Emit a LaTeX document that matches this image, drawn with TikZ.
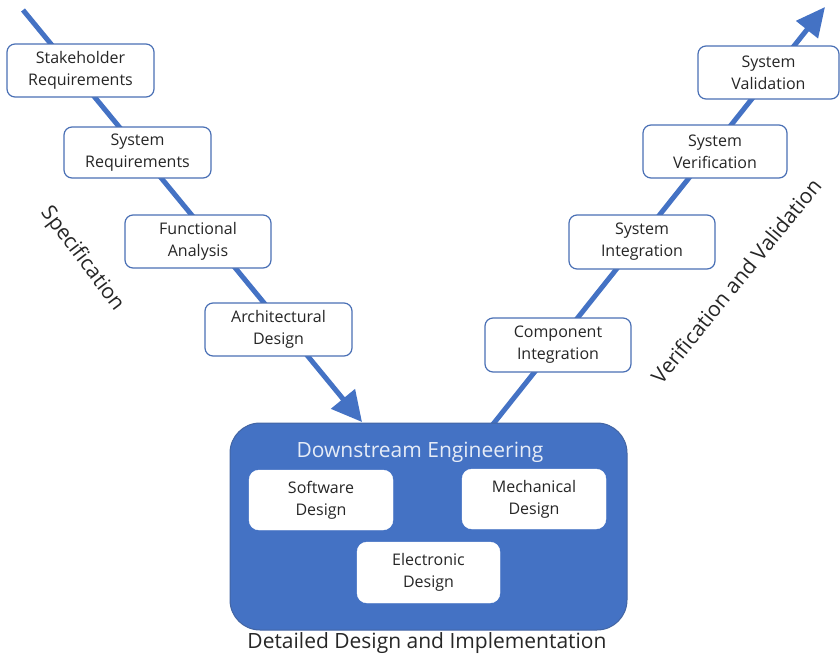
\documentclass[tikz,border=0pt]{standalone}
\usepackage{fontspec}
\setmainfont{Open Sans}
\usetikzlibrary{arrows.meta}
\definecolor{vblue}{HTML}{4472C4}
\definecolor{bborder}{HTML}{4A70B5}
\definecolor{txt}{HTML}{262626}
\definecolor{dstxt}{HTML}{E6ECF7}
\tikzset{
  vline/.style={draw=vblue, line width=5pt},
  stagebox/.style={draw=bborder, line width=1.2pt, fill=white, rounded corners=8pt,
    align=center, text=txt, font=\fontsize{16}{22}\selectfont, inner sep=0pt},
  innerbox/.style={draw=white, fill=white, rounded corners=10pt,
    align=center, text=txt, font=\fontsize{16}{22}\selectfont, inner sep=0pt},
  bigbox/.style={draw=bborder!90!black, line width=1pt, fill=vblue, rounded corners=30pt},
  biglabel/.style={text=txt, font=\fontsize{21}{25}\selectfont, inner sep=0pt}
}
\begin{document}
\begin{tikzpicture}[x=1pt,y=-1pt]
\useasboundingbox (0,0) rectangle (840,659);
% connectors
\coordinate (ls) at (23,10);
\coordinate (lt) at (362,422);
\coordinate (rs) at (490,428);
\coordinate (rt) at (825,7);
\draw[vline, -{Triangle[length=30pt,width=30pt]}] (ls) -- (lt);
\draw[vline, -{Triangle[length=29pt,width=27pt]}] (rs) -- (rt);
% big box
\node[bigbox, minimum width=397pt, minimum height=207pt] (down) at (428.5,526.5) {};
\node[text=dstxt, font=\fontsize{21}{25}\selectfont, inner sep=0pt] (downlbl) at (420,452) {Downstream Engineering};
\node[innerbox, minimum width=144pt, minimum height=60pt] (sw) at (321,500) {Software\\Design};
\node[innerbox, minimum width=144pt, minimum height=60pt] (mech) at (534,499) {Mechanical\\Design};
\node[innerbox, minimum width=143pt, minimum height=61pt] (elec) at (428.5,572.5) {Electronic\\Design};
% left stages
\node[stagebox, minimum width=147pt, minimum height=53pt] (stake) at (80.5,70.5) {Stakeholder\\Requirements};
\node[stagebox, minimum width=147pt, minimum height=51pt] (sysreq) at (137.5,152.5) {System\\Requirements};
\node[stagebox, minimum width=146pt, minimum height=53pt] (func) at (198,241.5) {Functional\\Analysis};
\node[stagebox, minimum width=147pt, minimum height=53pt] (arch) at (278.5,329.5) {Architectural\\Design};
% right stages
\node[stagebox, minimum width=146pt, minimum height=54pt] (comp) at (558,345) {Component\\Integration};
\node[stagebox, minimum width=146pt, minimum height=54pt] (sysint) at (642,242) {System\\Integration};
\node[stagebox, minimum width=144pt, minimum height=53pt] (sysver) at (715,151.5) {System\\Verification};
\node[stagebox, minimum width=141pt, minimum height=53pt] (sysval) at (768.5,72.5) {System\\Validation};
% labels
\node[biglabel, rotate=-53] (spec) at (82,259) {Specification};
\node[biglabel, rotate=51] (vv) at (736,281) {Verification and Validation};
\node[biglabel] (ddi) at (427,643) {Detailed Design and Implementation};
\end{tikzpicture}
\end{document}
